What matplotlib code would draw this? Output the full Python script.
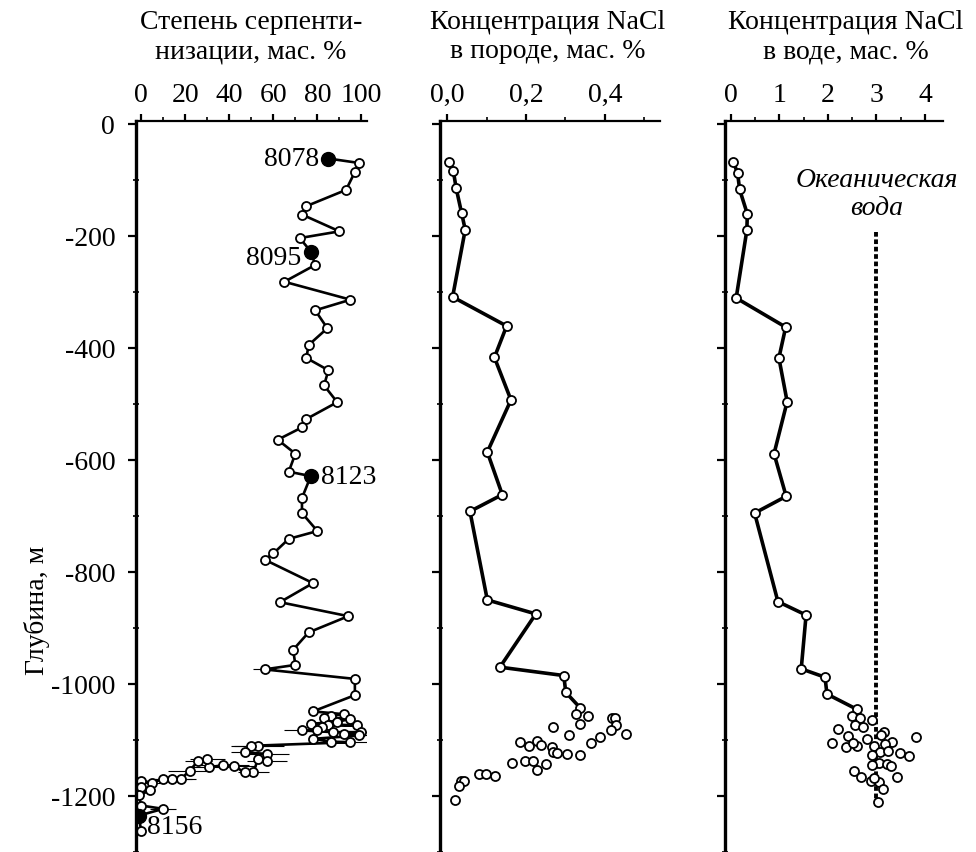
import matplotlib.pyplot as plt
from matplotlib.ticker import FuncFormatter, MultipleLocator

plt.rcParams['font.family'] = ['Liberation Serif', 'DejaVu Serif']
plt.rcParams['axes.unicode_minus'] = False

# serpentinization degree, wt. %  (depth in m, value)
serp_depth = [-62, -70, -86, -118, -147, -162, -192, -204, -228, -252, -282, -314, -333,
              -365, -395, -418, -440, -467, -497, -527, -542, -564, -589, -621, -629, -668,
              -695, -727, -741, -767, -778, -820, -854, -879, -908, -939, -966, -974, -991,
              -1020, -1049, -1054, -1057, -1060, -1062, -1068, -1071, -1074, -1074, -1077,
              -1083, -1083, -1086, -1086, -1089, -1092, -1098, -1103, -1104,
              -1110, -1110, -1122, -1125, -1137, -1134, -1158, -1158, -1146, -1145, -1149,
              -1134, -1137, -1155, -1170, -1170, -1170, -1176, -1173, -1184, -1190, -1199,
              -1217, -1223, -1235, -1262]
serp_value = [85, 99, 97, 93, 75, 73, 90, 72, 77, 79, 65, 95, 79,
              84.5, 76, 75, 85, 83, 89, 75, 73, 62, 70, 67, 77, 73,
              73, 80, 67, 60, 56, 78, 63, 94, 76, 69, 70, 56, 97,
              97, 78, 92, 86, 83, 95, 89, 77, 98, 85, 82,
              80, 73, 87, 100, 92, 99, 78, 86, 95,
              53, 50, 47, 57, 57, 53, 51, 47, 42, 37, 31,
              30, 26, 22, 18, 14, 10, 5, 0, 0, 4, -1,
              0, 10, -1, 0]
serp_err = [0] * 37 + [5] + [0] * 13 + [8, 0, 6, 0, 4, 0, 0, 14,
            12, 8, 6, 10, 9, 0, 7, 0, 10, 12, 9,
            8, 6, 10, 7, 9, 6, 5, 0, 0, 0, 0,
            0, 6, 0, 0]

sample_ids = ['8078', '8095', '8123', '8156']
sample_depth = [-62, -228, -629, -1235]
sample_value = [85, 77, 77, -1]

# NaCl in rock, wt. %
rock_depth = [-68, -85, -115, -160, -189, -309, -361, -417, -493, -586, -662, -692,
              -850, -875, -970, -985, -1015, -1043]
rock_value = [0.006, 0.016, 0.023, 0.037, 0.046, 0.014, 0.151, 0.12, 0.162, 0.102,
              0.14, 0.058, 0.102, 0.225, 0.134, 0.296, 0.301, 0.338]
rock_sc_depth = [-1054, -1058, -1060, -1061, -1071, -1074, -1083, -1090, -1076, -1091,
                 -1095, -1105, -1103, -1111, -1101, -1109, -1113, -1121, -1123, -1125,
                 -1127, -1142, -1137, -1138, -1153, -1143, -1161, -1161, -1164, -1173,
                 -1173, -1183, -1207]
rock_sc_value = [0.327, 0.358, 0.417, 0.425, 0.337, 0.428, 0.415, 0.455, 0.268, 0.31,
                 0.387, 0.366, 0.185, 0.208, 0.227, 0.238, 0.265, 0.268, 0.279, 0.305,
                 0.337, 0.164, 0.197, 0.218, 0.227, 0.252, 0.082, 0.099, 0.122, 0.035,
                 0.043, 0.031, 0.02]

# NaCl in water, wt. %
water_depth = [-68, -88, -117, -161, -190, -311, -363, -418, -496, -589, -665, -695,
               -853, -877, -973, -988, -1018, -1045]
water_value = [0.05, 0.14, 0.18, 0.34, 0.33, 0.11, 1.13, 0.99, 1.16, 0.89, 1.14, 0.49,
               0.97, 1.55, 1.45, 1.94, 1.98, 2.59]
water_sc_depth = [-1057, -1061, -1065, -1073, -1077, -1080, -1093, -1099, -1105, -1113,
                  -1111, -1105, -1086, -1092, -1103, -1095, -1111, -1107, -1122, -1119,
                  -1123, -1128, -1127, -1141, -1143, -1147, -1145, -1156, -1167, -1173,
                  -1167, -1175, -1188, -1168, -1211]
water_sc_value = [2.49, 2.66, 2.9, 2.56, 2.72, 2.21, 2.42, 2.8, 2.08, 2.37,
                  2.59, 2.52, 3.15, 3.1, 3.31, 3.81, 2.95, 3.17, 3.07, 3.24,
                  3.48, 3.67, 2.9, 3.06, 3.21, 3.29, 2.9, 2.54, 2.69, 2.88,
                  3.42, 3.06, 3.14, 2.95, 3.04]
ocean_value = 3.0
ocean_depth = [-193, -1220]

titles = ['Степень серпенти-\nнизации, мас. %',
          'Концентрация NaCl\nв породе, мас. %',
          'Концентрация NaCl\nв воде, мас. %']

W, H = 976, 853
FS = 20
fig = plt.figure(figsize=(W / 100, H / 100), dpi=100)


def make_ax(left, right):
    ax = fig.add_axes([left / W, 0, (right - left) / W, 1 - 122 / H])
    ax.set_ylim(-1300, 5)
    ax.xaxis.tick_top()
    ax.spines['right'].set_visible(False)
    ax.spines['bottom'].set_visible(False)
    ax.spines['left'].set_linewidth(2.4)
    ax.spines['top'].set_linewidth(1.6)
    ax.yaxis.set_major_locator(MultipleLocator(200))
    ax.yaxis.set_minor_locator(MultipleLocator(100))
    ax.tick_params(axis='x', which='major', direction='out', length=5, width=1.6,
                   pad=5, labelsize=FS)
    ax.tick_params(axis='x', which='minor', direction='out', length=3, width=1.2)
    ax.tick_params(axis='y', which='major', direction='out', length=6, width=1.6,
                   pad=9, labelsize=FS)
    ax.tick_params(axis='y', which='minor', direction='inout', length=4, width=1.2)
    return ax


mk = dict(marker='o', markersize=6.5, markerfacecolor='white', markeredgecolor='black',
          markeredgewidth=1.3)

# panel 1
ax1 = make_ax(136, 367)
ax1.set_xlim(-2.3, 102.5)
ax1.xaxis.set_major_locator(MultipleLocator(20))
ax1.xaxis.set_minor_locator(MultipleLocator(10))
ax1.errorbar(serp_value, serp_depth, xerr=serp_err, color='black', lw=1.9,
             elinewidth=0.8, capsize=0, zorder=2, **mk)
ax1.plot(sample_value, sample_depth, 'o', color='black', markersize=10, zorder=4)
offsets = [(-7, 0, 'right', 'center'), (-7, -4, 'right', 'center'),
           (7, 0, 'left', 'center'), (6, -8, 'left', 'center')]
for sid, v, d, (dx, dy, ha, va) in zip(sample_ids, sample_value, sample_depth, offsets):
    ax1.annotate(sid, (v, d), xytext=(dx, dy), textcoords='offset points',
                 ha=ha, va=va, fontsize=FS, zorder=5)

# panel 2
ax2 = make_ax(440, 660)
ax2.set_xlim(-0.018, 0.54)
ax2.xaxis.set_major_locator(MultipleLocator(0.2))
ax2.xaxis.set_minor_locator(MultipleLocator(0.1))
ax2.xaxis.set_major_formatter(FuncFormatter(lambda v, p: f'{v:.1f}'.replace('.', ',')))
ax2.plot(rock_value, rock_depth, color='black', lw=2.6, zorder=2, **mk)
ax2.plot(rock_sc_value, rock_sc_depth, linestyle='none', zorder=3, **mk)
ax2.tick_params(axis='y', labelleft=False)

# panel 3
ax3 = make_ax(725, 943)
ax3.set_xlim(-0.12, 4.37)
ax3.xaxis.set_major_locator(MultipleLocator(1))
ax3.xaxis.set_minor_locator(MultipleLocator(0.5))
ax3.plot([ocean_value, ocean_value], ocean_depth, color='black', lw=2.8,
         linestyle=(0, (1.2, 0.7)), zorder=1)
ax3.plot(water_value, water_depth, color='black', lw=2.6, zorder=2, **mk)
ax3.plot(water_sc_value, water_sc_depth, linestyle='none', zorder=3, **mk)
ax3.text(ocean_value, -124, 'Океаническая\nвода', ha='center', va='center',
         fontsize=FS, style='italic', linespacing=1.15)
ax3.tick_params(axis='y', labelleft=False)

# column headers (the third one sits a little right of its axes centre)
title_x = [251, 548, 846]
for tx, t in zip(title_x, titles):
    fig.text(tx / W, 1 - 37 / H, t, ha='center', va='center', fontsize=FS,
             linespacing=1.25)

fig.text(37 / W, 1 - 610 / H, 'Глубина, м', rotation=90, ha='center', va='center',
         fontsize=FS)

fig.savefig('out.png', dpi=100)
